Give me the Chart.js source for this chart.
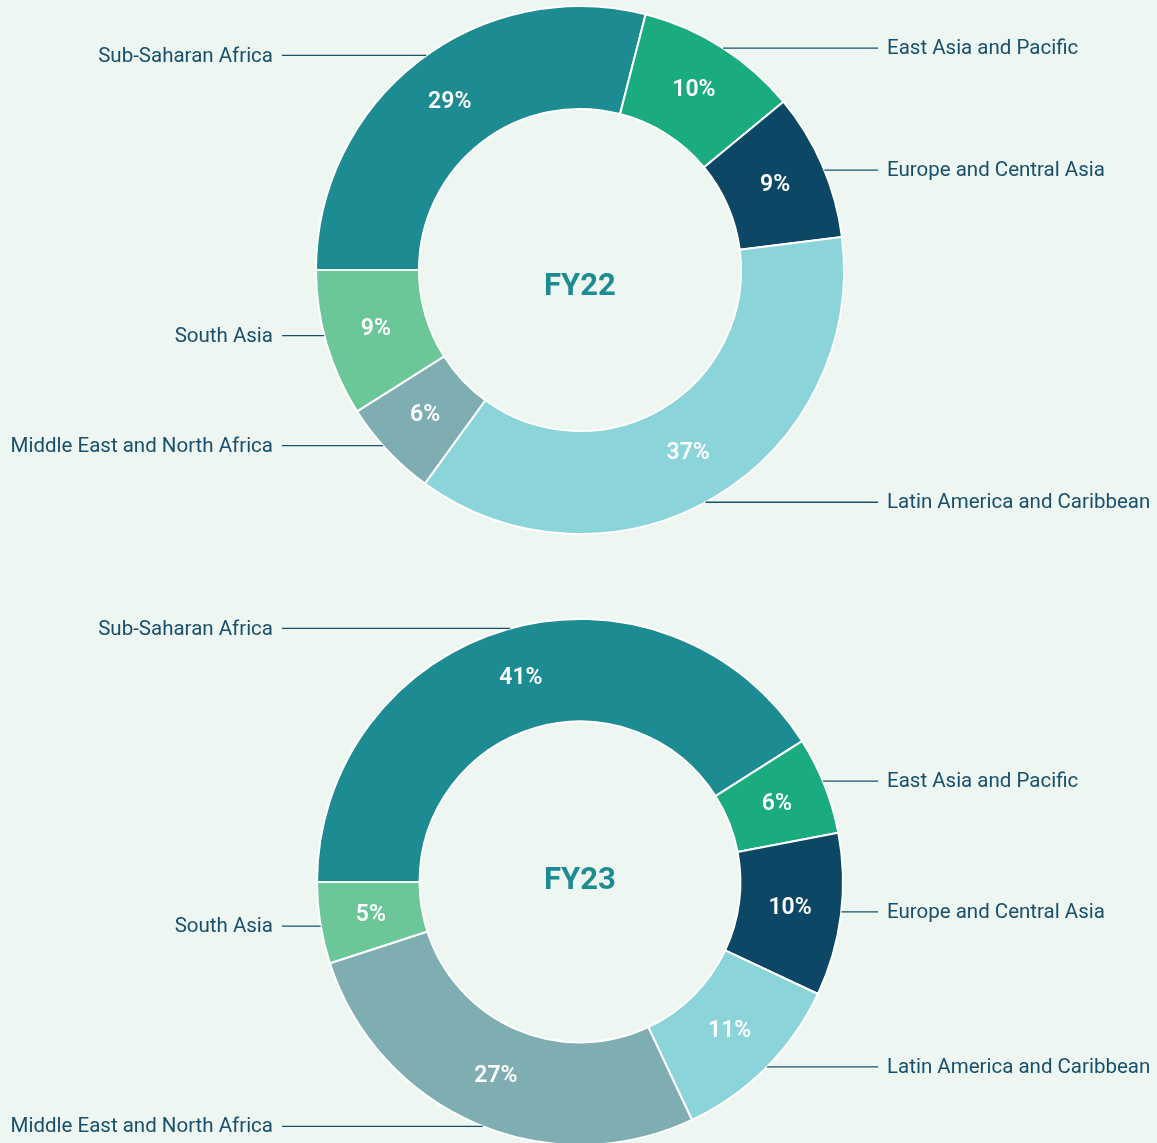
<!DOCTYPE html>
<html>
<head>
<meta charset="utf-8">
<title>Regional split FY22 / FY23</title>
<script src="https://cdn.jsdelivr.net/npm/chart.js@4.4.1/dist/chart.umd.min.js"></script>
<style>
    html, body { margin: 0; padding: 0; background: #edf6f1; }
    .wrap { width: 1157px; }
    canvas { display: block; }
</style>
</head>
<body>
<div class="wrap">
    <canvas id="fy22Chart" width="1157" height="576"></canvas>
    <canvas id="fy23Chart" width="1157" height="567"></canvas>
</div>
<script>
// --- Data ---
const regions = [
    'Sub-Saharan Africa',
    'East Asia and Pacific',
    'Europe and Central Asia',
    'Latin America and Caribbean',
    'Middle East and North Africa',
    'South Asia'
];
const fy22Shares = [29, 10, 9, 37, 6, 9];
const fy23Shares = [41, 6, 10, 11, 27, 5];
const regionColors = ['#1c8b92', '#1aab80', '#0d4766', '#8bd4d9', '#7faeb2', '#6bc698'];

const LABEL_COLOR = '#174f6c';
const CENTER_COLOR = '#1c8b92';
const FONT = 'Roboto, "Noto Sans", sans-serif';

// small vertical nudges for the outside labels (same order as regions)
const fy22LabelNudge = [-6, 1, 5, 5, -5, -8];
const fy23LabelNudge = [-1, -4, -3, -1, 3, 3];

// Plugin: percentage inside the ring, outside labels with leader lines, title in the hole
const ringLabels = {
    id: 'ringLabels',
    afterDatasetsDraw(chart, args, opts) {
        const ctx = chart.ctx;
        const meta = chart.getDatasetMeta(0);
        const values = chart.data.datasets[0].data;
        const labels = chart.data.labels;

        ctx.save();
        meta.data.forEach((arc, i) => {
            const p = arc.getProps(['x', 'y', 'startAngle', 'endAngle', 'innerRadius', 'outerRadius'], true);
            const mid = (p.startAngle + p.endAngle) / 2;

            // value inside the slice
            const rMid = (p.innerRadius + p.outerRadius) / 2;
            ctx.fillStyle = '#ffffff';
            ctx.font = `600 23px ${FONT}`;
            ctx.textAlign = 'center';
            ctx.textBaseline = 'middle';
            ctx.fillText(values[i] + '%', p.x + Math.cos(mid) * rMid, p.y + Math.sin(mid) * rMid);

            // outside label
            const R = p.outerRadius;
            const ly = p.y + Math.sin(mid) * R + (opts.nudge ? opts.nudge[i] : 0);
            const dy = Math.max(-R, Math.min(R, ly - p.y));
            const dx = Math.sqrt(R * R - dy * dy);
            const left = Math.cos(mid) < 0;

            ctx.strokeStyle = LABEL_COLOR;
            ctx.lineWidth = 1.3;
            ctx.beginPath();
            if (left) {
                ctx.moveTo(p.x - 298, ly);
                ctx.lineTo(p.x - dx, ly);
            } else {
                ctx.moveTo(p.x + dx, ly);
                ctx.lineTo(p.x + 298, ly);
            }
            ctx.stroke();

            ctx.fillStyle = LABEL_COLOR;
            ctx.font = `400 20.5px ${FONT}`;
            ctx.textAlign = left ? 'right' : 'left';
            ctx.fillText(labels[i], left ? p.x - 307 : p.x + 307, ly + 1);
        });

        // year in the hole
        const first = meta.data[0];
        if (first) {
            ctx.fillStyle = CENTER_COLOR;
            ctx.font = `700 31px ${FONT}`;
            ctx.textAlign = 'center';
            ctx.textBaseline = 'middle';
            ctx.fillText(opts.title, first.x, first.y + (opts.titleShift || 0));
        }
        ctx.restore();
    }
};

function makeRing(canvasId, shares, radius, padding, title, nudge, titleShift) {
    const ctx = document.getElementById(canvasId).getContext('2d');
    return new Chart(ctx, {
        type: 'doughnut',
        data: {
            labels: regions,
            datasets: [{
                data: shares,
                backgroundColor: regionColors,
                borderColor: '#ffffff',
                borderWidth: 2,
                hoverOffset: 0
            }]
        },
        options: {
            responsive: false,
            animation: false,
            devicePixelRatio: 1,
            rotation: -90,
            radius: radius,
            cutout: '61%',
            layout: { padding: padding },
            plugins: {
                legend: { display: false },
                tooltip: { enabled: false },
                ringLabels: { title, nudge, titleShift }
            }
        },
        plugins: [ringLabels]
    });
}

makeRing('fy22Chart', fy22Shares, 264, { left: 3, right: 0, top: 0, bottom: 36 }, 'FY22', fy22LabelNudge, 17);
makeRing('fy23Chart', fy23Shares, 263, { left: 3, right: 0, top: 45, bottom: 0 }, 'FY23', fy23LabelNudge, -1);
</script>
</body>
</html>
